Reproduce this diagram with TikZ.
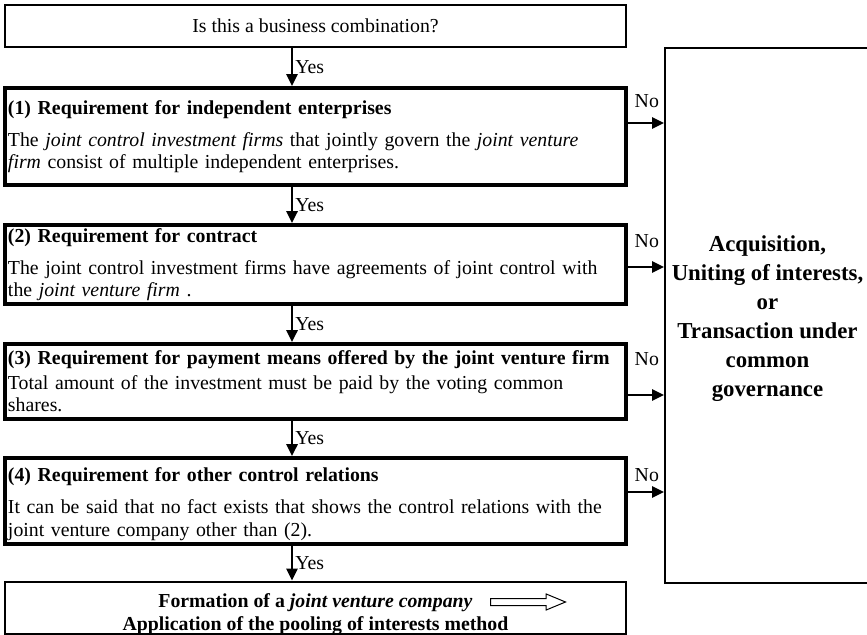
\documentclass[tikz,border=0pt]{standalone}
\usepackage{fontspec}
\setmainfont{Liberation Serif}
\usepackage{tikz}
\usetikzlibrary{arrows.meta,positioning,calc,shapes.arrows}

\begin{document}
\begin{tikzpicture}[
    x=0.5pt, y=-0.5pt,
    every node/.style={font=\fontsize{9.9}{11}\selectfont},
    reqbox/.style={draw, line width=1.8pt, minimum width=310.5pt, text width=307.5pt, inner xsep=1.5pt, inner ysep=0pt, align=left},
    thinbox/.style={draw, line width=1pt, minimum width=310.5pt, inner sep=0pt, align=center},
    flow/.style={line width=1.3pt, -{Triangle[length=6pt,width=5.5pt]}},
    ans/.style={inner sep=1pt}
]
\useasboundingbox (0,0) rectangle (867,635);

\node[thinbox, minimum height=21pt] (question) at (315.5,26) {Is this a business combination?};
\node[reqbox, minimum height=48.5pt] (req1) at (315.5,136.5) {\textbf{(1) Requirement for independent enterprises}\\[5pt]
    The \textit{joint control investment firms} that jointly govern the \textit{joint venture}\\
    \textit{firm} consist of multiple independent enterprises.};
\node[reqbox, minimum height=39.5pt] (req2) at (315.5,264.5) {\textbf{(2) Requirement for contract}\\[5pt]
    The joint control investment firms have agreements of joint control with\\
    the \textit{joint venture firm} .};
\node[reqbox, minimum height=37.5pt] (req3) at (315.5,381.5) {\textbf{(3) Requirement for payment means offered by the joint venture firm}\\[1.5pt]
    Total amount of the investment must be paid by the voting common\\
    shares.};
\node[reqbox, minimum height=43pt] (req4) at (315.5,501) {\rule{0pt}{10pt}\textbf{(4) Requirement for other control relations}\\[5pt]
    It can be said that no fact exists that shows the control relations with the\\[0.5pt]
    joint venture company other than (2).};
\node[thinbox, minimum height=26pt, font=\bfseries\fontsize{9.9}{11.2}\selectfont] (formation) at (315.5,608) {\rule{0pt}{13pt}Formation of a \textit{joint venture company}\\
    Application of the pooling of interests method};
\node[draw, single arrow, single arrow head extend=2.25pt, single arrow tip angle=45, minimum height=37.5pt, inner sep=1.5pt, line width=0.5pt, anchor=west] (pointer) at (490,602) {};

\node[draw, line width=1pt, minimum width=101.5pt, minimum height=267.5pt, align=center, font=\bfseries\fontsize{11.4}{14.5}\selectfont] (result) at (767.5,315.5) {\rule{0pt}{11pt}Acquisition,\\ Uniting of interests,\\ or\\ Transaction under\\ common\\ governance};

\draw[flow] ([xshift=-11.75pt]question.south) -- node[ans, right] (yes1) {Yes} ([xshift=-11.75pt]req1.north);
\draw[flow] ([xshift=-11.75pt]req1.south) -- node[ans, right] (yes2) {Yes} ([xshift=-11.75pt]req2.north);
\draw[flow] ([xshift=-11.75pt]req2.south) -- node[ans, right] (yes3) {Yes} ([xshift=-11.75pt]req3.north);
\draw[flow] ([xshift=-11.75pt]req3.south) -- node[ans, right] (yes4) {Yes} ([xshift=-11.75pt]req4.north);
\draw[flow] ([xshift=-11.75pt]req4.south) -- node[ans, right] (yes5) {Yes} ([xshift=-11.75pt]formation.north);

\draw[flow] ([yshift=6.75pt]req1.east) coordinate (out1) -- (out1 -| result.west);
\draw[flow] ([yshift=-1.25pt]req2.east) coordinate (out2) -- (out2 -| result.west);
\draw[flow] ([yshift=-6.75pt]req3.east) coordinate (out3) -- (out3 -| result.west);
\draw[flow] ([yshift=4.5pt]req4.east) coordinate (out4) -- (out4 -| result.west);

\node[ans] (no1) at ([xshift=9.5pt,yshift=-7.5pt]req1.north east) {No};
\node[ans] (no2) at ([xshift=9.5pt,yshift=-9pt]req2.north east) {No};
\node[ans] (no3) at ([xshift=9.5pt,yshift=-8.5pt]req3.north east) {No};
\node[ans] (no4) at ([xshift=9.5pt,yshift=-9.5pt]req4.north east) {No};
\end{tikzpicture}
\end{document}
